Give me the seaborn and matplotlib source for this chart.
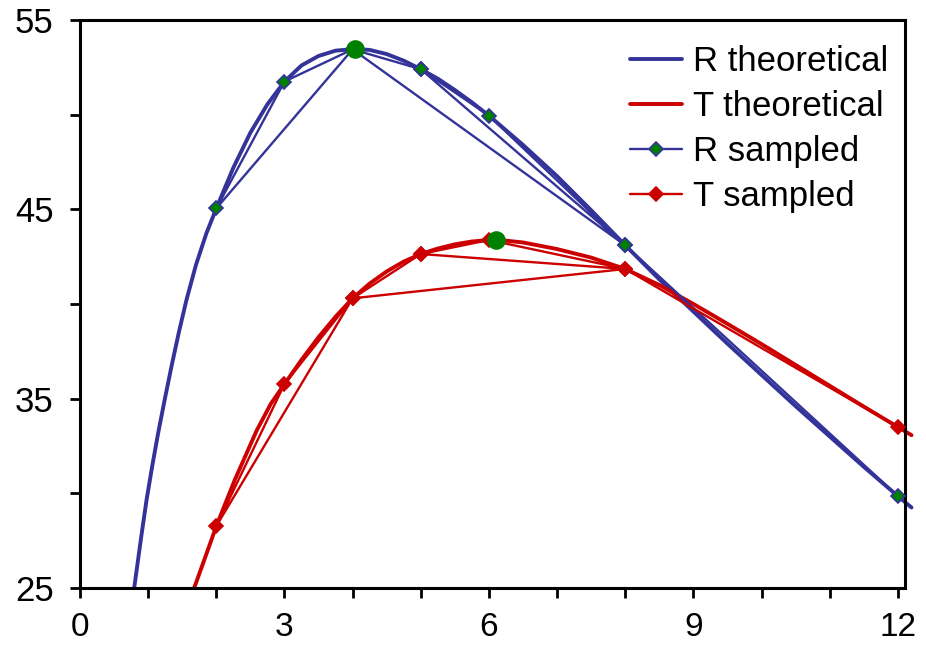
import matplotlib
matplotlib.use("Agg")
import matplotlib.pyplot as plt
from matplotlib.ticker import MultipleLocator
import seaborn as sns
import pandas as pd

# ---- data ----
R_theo_x = [0.795, 0.9, 0.976, 1.06, 1.146, 1.24, 1.342, 1.45, 1.561, 1.7, 1.854, 2.0,
            2.25, 2.5, 2.75, 3.0, 3.25, 3.5, 3.75, 4.03, 4.25, 4.5, 4.75, 5.0, 5.25, 5.5,
            5.75, 6.0, 6.5, 7.0, 7.5, 8.0, 8.5, 9.0, 9.5, 10.0, 10.5, 11.0, 11.5, 12.0, 12.2]
R_theo_y = [25.0, 27.75, 29.64, 31.45, 33.17, 34.9, 36.7, 38.5, 40.2, 42.05, 43.73, 45.05,
            47.2, 49.05, 50.55, 51.75, 52.6, 53.1, 53.38, 53.47, 53.42, 53.2, 52.85, 52.4, 51.9, 51.3,
            50.65, 49.95, 48.4, 46.75, 44.95, 43.1, 41.3, 39.6, 37.9, 36.25, 34.6, 33.0, 31.4, 29.85, 29.25]

T_theo_x = [1.675, 1.84, 2.0, 2.27, 2.59, 2.8, 3.0, 3.25, 3.5, 3.75, 4.0, 4.25, 4.5, 4.75,
            5.0, 5.25, 5.5, 5.75, 6.0, 6.1, 6.5, 7.0, 7.5, 8.0, 8.5, 9.0, 9.5, 10.0, 10.5,
            11.0, 11.5, 12.0, 12.2]
T_theo_y = [25.0, 26.65, 28.27, 30.7, 33.3, 34.73, 35.77, 37.05, 38.25, 39.33, 40.3, 41.08, 41.72, 42.24,
            42.64, 42.93, 43.15, 43.3, 43.38, 43.4, 43.25, 42.9, 42.45, 41.85, 41.0, 40.0, 38.95, 37.88, 36.78,
            35.68, 34.58, 33.5, 33.07]

sample_x = [2, 3, 4, 5, 6, 8, 12]
R_sample_y = [45.05, 51.75, 53.45, 52.4, 49.95, 43.1, 29.85]
T_sample_y = [28.27, 35.77, 40.3, 42.64, 43.38, 41.85, 33.5]
visit_order = [12, 8, 4, 2, 3, 4, 5, 8, 6, 5]

peak_x = [4.03, 6.1]
peak_y = [53.47, 43.4]

x_ticks = [0, 3, 6, 9, 12]
y_ticks = [25, 35, 45, 55]

# ---- build frames ----
R_lookup = dict(zip(sample_x, R_sample_y))
T_lookup = dict(zip(sample_x, T_sample_y))
R_path = pd.DataFrame({"x": visit_order, "y": [R_lookup[v] for v in visit_order]})
T_path = pd.DataFrame({"x": visit_order, "y": [T_lookup[v] for v in visit_order]})
R_theo = pd.DataFrame({"x": R_theo_x, "y": R_theo_y})
T_theo = pd.DataFrame({"x": T_theo_x, "y": T_theo_y})
peaks = pd.DataFrame({"x": peak_x, "y": peak_y})

sns.set_style("white")
plt.rcParams["font.family"] = ["Liberation Sans", "DejaVu Sans"]

BLUE = "#333399"
RED = "#CC0000"
GREEN = "#008000"

fig = plt.figure(figsize=(9.26, 6.45), dpi=100)
ax = fig.add_axes([0.0864, 0.0884, 0.8906, 0.8806])

sns.lineplot(data=R_theo, x="x", y="y", ax=ax, color=BLUE, lw=2.8, sort=False,
             label="R theoretical", clip_on=False, zorder=2, estimator=None)
sns.lineplot(data=T_theo, x="x", y="y", ax=ax, color=RED, lw=2.8, sort=False,
             label="T theoretical", clip_on=False, zorder=2, estimator=None)
sns.lineplot(data=R_path, x="x", y="y", ax=ax, color=BLUE, lw=1.7, sort=False,
             marker="D", markersize=7.5, markerfacecolor=GREEN, markeredgecolor=BLUE,
             markeredgewidth=1.2, label="R sampled", zorder=3, estimator=None)
sns.lineplot(data=T_path, x="x", y="y", ax=ax, color=RED, lw=1.7, sort=False,
             marker="D", markersize=7.5, markerfacecolor=RED, markeredgecolor=RED,
             markeredgewidth=1.2, label="T sampled", zorder=3, estimator=None)
sns.scatterplot(data=peaks, x="x", y="y", ax=ax, color=GREEN, s=180, edgecolor=GREEN,
                linewidth=0, zorder=4, legend=False)

ax.set_xlim(0, 12.1)
ax.set_ylim(25, 55)
ax.set_xticks(x_ticks)
ax.set_yticks(y_ticks)
ax.xaxis.set_minor_locator(MultipleLocator(1))
ax.yaxis.set_minor_locator(MultipleLocator(5))
ax.set_xlabel("")
ax.set_ylabel("")
for s in ax.spines.values():
    s.set_linewidth(2.2)
    s.set_color("black")
ax.tick_params(which="both", direction="out", length=7, width=2, color="black",
               bottom=True, left=True, top=False, right=False)
ax.tick_params(axis="y", which="major", labelsize=25, pad=12, labelcolor="black")
ax.tick_params(axis="x", which="major", labelsize=24, pad=10, labelcolor="black")

leg = ax.legend(loc="upper right", bbox_to_anchor=(1.009, 0.998), frameon=False,
                fontsize=25, handlelength=1.5, handletextpad=0.3, labelspacing=0.34,
                borderaxespad=0.3, numpoints=1)
for t in leg.get_texts():
    t.set_color("black")

fig.savefig("out.png", dpi=100)
